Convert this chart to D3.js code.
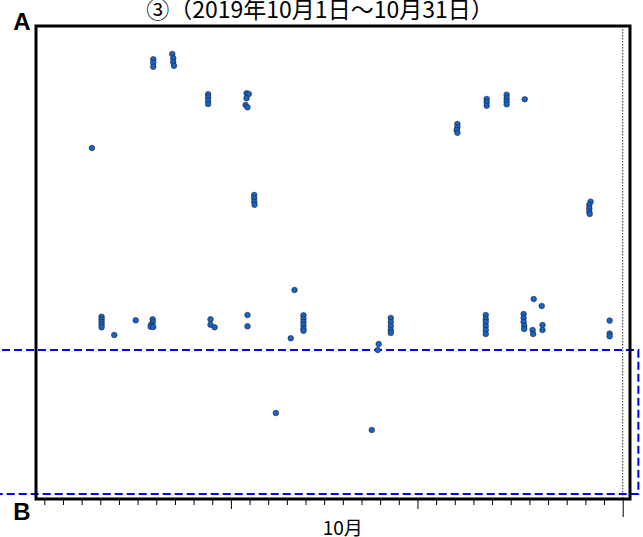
<!DOCTYPE html>
<html>
<head>
<meta charset="utf-8">
<script src="https://cdn.jsdelivr.net/npm/d3@7"></script>
<style>
  html, body { margin: 0; padding: 0; background: #fff; }
  svg { display: block; }
</style>
</head>
<body>
<div id="chart"></div>
<script>
const W = 643, H = 537;

// title + end labels of the section line
const TITLE = "③（2019年10月1日〜10月31日）";
const MONTH_LABEL = "10月";
const END_LABELS = ["A", "B"];

// hypocentres: fractional day of October 2019, depth along section (arbitrary units)
const eventDay = [
    3.55,
    6.84, 6.84, 6.84,
    7.86, 7.91, 7.91, 7.95,
    9.78, 9.78, 9.78, 9.78,
    11.84, 11.96, 11.84, 11.79, 11.89,
    12.25, 12.25, 12.25, 12.27,
    23.14, 23.14, 23.10, 23.14,
    24.71, 24.71, 24.71,
    25.78, 25.78, 25.78, 25.78,
    26.75,
    30.28, 30.21, 30.21, 30.21, 30.23,
    4.07, 4.07, 4.07, 4.07, 4.07,
    4.75, 5.90,
    6.81, 6.81, 6.72, 6.70, 6.84,
    9.91, 9.91, 10.13,
    11.89, 11.89,
    14.41, 14.21,
    14.89, 14.89, 14.89, 14.89, 14.89, 14.89,
    13.41, 18.55, 18.92, 18.87,
    19.57, 19.57, 19.57, 19.57, 19.57,
    24.66, 24.66, 24.66, 24.66, 24.66, 24.66,
    26.69, 26.69, 26.69, 26.72, 26.72,
    27.23, 27.66, 27.17, 27.20, 27.70, 27.70,
    31.30, 31.30, 31.30
];
const eventDepth = [
    12.2,
    3.33, 3.67, 4.07,
    2.8, 3.23, 3.6, 3.97,
    6.83, 7.13, 7.47, 7.8,
    6.73, 6.8, 7.23, 7.9, 8.13,
    16.9, 17.23, 17.57, 17.87,
    9.8, 10.13, 10.4, 10.67,
    7.3, 7.63, 7.97,
    6.87, 7.23, 7.53, 7.83,
    7.33,
    17.57, 17.9, 18.23, 18.57, 18.8,
    29.07, 29.33, 29.6, 29.87, 30.13,
    30.9, 29.43,
    29.33, 29.63, 29.9, 30.07, 30.1,
    29.33, 29.87, 30.13,
    28.9, 30.03,
    26.4, 31.23,
    28.93, 29.27, 29.6, 29.93, 30.27, 30.47,
    38.7, 40.4, 31.8, 32.4,
    29.2, 29.6, 30.0, 30.4, 30.7,
    28.9, 29.3, 29.6, 30.0, 30.4, 30.8,
    28.8, 29.2, 29.6, 30.0, 30.3,
    27.3, 28.0, 30.4, 30.8, 29.9, 30.4,
    29.46, 30.76, 31.03
];

// highlighted depth band (blue dashed box)
const bandDepth = [32.4, 46.8];

const monthStart = new Date(2019, 9, 1);
const monthEnd = new Date(2019, 10, 1);
const dayToDate = d => new Date(monthStart.getTime() + (d - 1) * 864e5);

const frame = { left: 36, right: 630, top: 26, bottom: 499 };

const x = d3.scaleTime()
    .domain([monthStart, monthEnd])
    .range([44.3, 622.7]);
const y = d3.scaleLinear()
    .domain([0, 47.3])
    .range([frame.top, frame.bottom]);

const svg = d3.select("#chart").append("svg")
    .attr("width", W).attr("height", H)
    .attr("viewBox", `0 0 ${W} ${H}`)
    .style("background", "#fff");

// title (top edge touches the page edge, as in the source figure)
svg.append("text")
    .attr("x", 320).attr("y", 18)
    .attr("text-anchor", "middle")
    .style("font-family", "'Noto Sans CJK JP', sans-serif")
    .style("font-size", "23px")
    .style("fill", "#000")
    .text(TITLE);

// blue dashed band
svg.append("rect")
    .attr("x", -10)
    .attr("y", y(bandDepth[0]))
    .attr("width", x(dayToDate(32.84)) + 10)
    .attr("height", y(bandDepth[1]) - y(bandDepth[0]))
    .attr("fill", "none")
    .attr("stroke", "#0000ee")
    .attr("stroke-width", 2)
    .attr("stroke-dasharray", "8,4");

// month boundary (dotted inside the frame)
svg.append("line")
    .attr("x1", x(monthEnd)).attr("x2", x(monthEnd))
    .attr("y1", frame.top).attr("y2", frame.bottom)
    .attr("stroke", "#333")
    .attr("stroke-width", 1)
    .attr("stroke-dasharray", "1.5,1.5");

// day ticks
const axis = d3.axisBottom(x)
    .tickValues(d3.timeDay.range(monthStart, d3.timeDay.offset(monthEnd, 1)))
    .tickSizeInner(6).tickSizeOuter(0)
    .tickFormat("");
const gAxis = svg.append("g")
    .attr("transform", `translate(0,${frame.bottom})`)
    .call(axis);
gAxis.select(".domain").remove();
gAxis.selectAll(".tick line")
    .attr("stroke", "#000")
    .attr("y2", d => {
        if (+d === +monthEnd) return 18;
        return (d.getDate() === 11 || d.getDate() === 21) ? 10 : 6;
    });

svg.append("text")
    .attr("x", x(new Date(2019, 9, 17)))
    .attr("y", 535)
    .attr("text-anchor", "middle")
    .style("font-family", "'Noto Sans CJK JP', sans-serif")
    .style("font-size", "19px")
    .text(MONTH_LABEL);

// hypocentres
svg.append("g").selectAll("circle")
    .data(eventDay.map((d, i) => ({ d, z: eventDepth[i] })))
    .join("circle")
    .attr("cx", p => x(dayToDate(p.d)))
    .attr("cy", p => y(p.z))
    .attr("r", 2.8)
    .attr("fill", "#1565c8")
    .attr("stroke", "#223")
    .attr("stroke-width", 0.6);

// frame
svg.append("rect")
    .attr("x", frame.left).attr("y", frame.top)
    .attr("width", frame.right - frame.left)
    .attr("height", frame.bottom - frame.top)
    .attr("fill", "none")
    .attr("stroke", "#000")
    .attr("stroke-width", 3);

// A / B labels
svg.selectAll("text.end")
    .data(END_LABELS)
    .join("text")
    .attr("class", "end")
    .attr("x", 22)
    .attr("y", (d, i) => i === 0 ? 30 : 520)
    .attr("text-anchor", "middle")
    .style("font-family", "'Liberation Sans', Arial, sans-serif")
    .style("font-weight", "bold")
    .style("font-size", "24px")
    .text(d => d);
</script>
</body>
</html>
